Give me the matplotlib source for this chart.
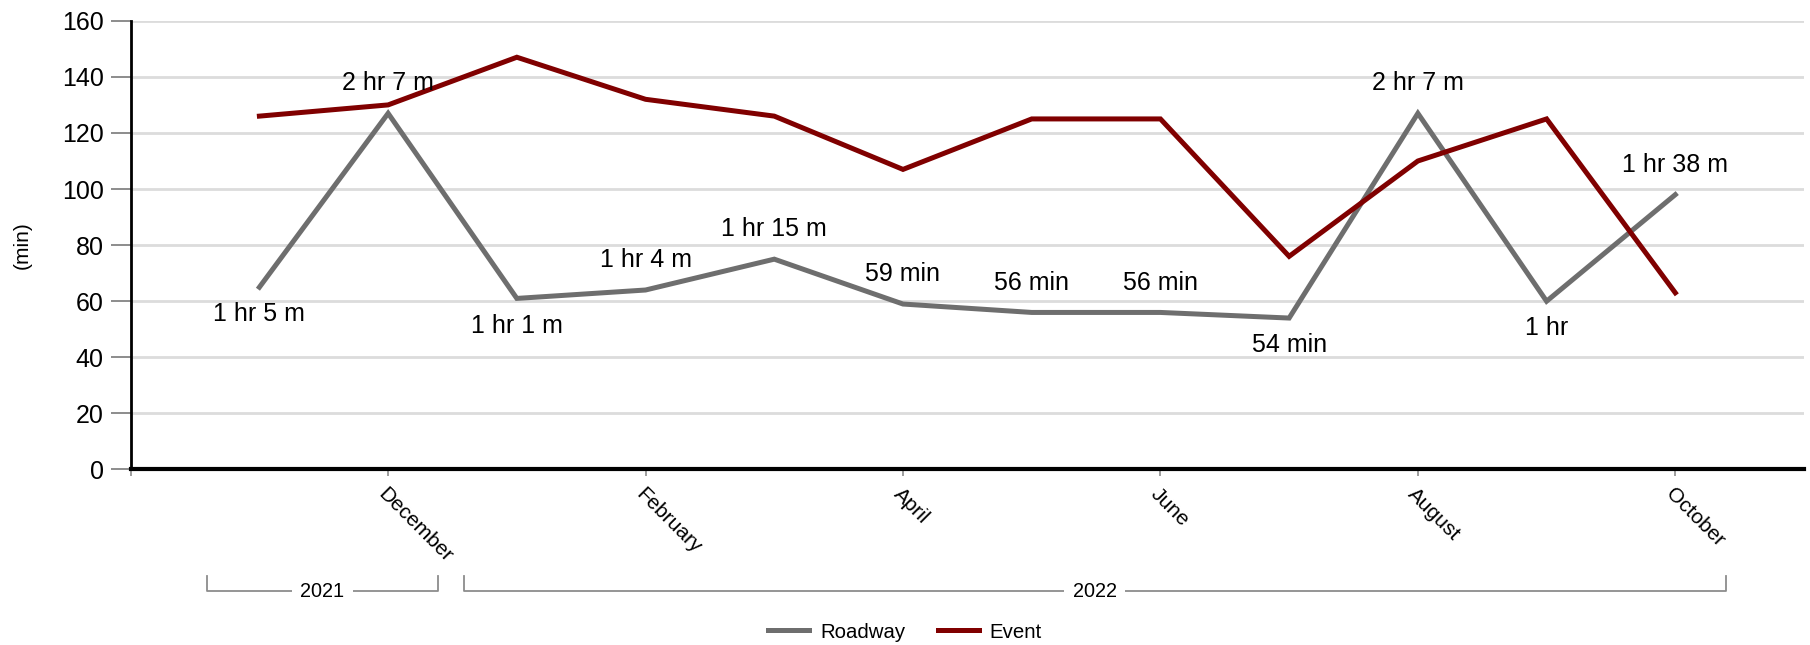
import matplotlib

matplotlib.use("Agg")
import matplotlib.pyplot as plt

plt.rcParams["font.family"] = ["Liberation Sans", "DejaVu Sans"]

# Monthly average durations (minutes), Nov 2021 .. Oct 2022
months = ["November", "December", "January", "February", "March", "April",
          "May", "June", "July", "August", "September", "October"]
roadway = [65, 127, 61, 64, 75, 59, 56, 56, 54, 127, 60, 98]
event = [126, 130, 147, 132, 126, 107, 125, 125, 76, 110, 125, 63]

tick_months = ["", "December", "February", "April", "June", "August", "October"]
years = ["2021", "2022"]
year_first = [1, 3]   # month index where each year group starts
year_last = [2, 12]   # month index where each year group ends


def fmt_minutes(v):
    h, m = divmod(int(v), 60)
    if h == 0:
        return f"{m} min"
    if m == 0:
        return f"{h} hr"
    return f"{h} hr {m} m"


GREY = "#6e6e6e"
RED = "#800000"

fig = plt.figure(figsize=(18.1, 6.45), dpi=100)
ax = fig.add_axes([0.0722, 0.2721, 0.9245, 0.6957])

x = list(range(1, len(months) + 1))
ax.plot(x, roadway, color=GREY, lw=3.6, label="Roadway", solid_joinstyle="miter", zorder=3)
ax.plot(x, event, color=RED, lw=3.6, label="Event", solid_joinstyle="miter", zorder=3)

# value labels on the roadway line: below local minima, above otherwise
for i, v in enumerate(roadway):
    left = roadway[i - 1] if i > 0 else float("inf")
    right = roadway[i + 1] if i < len(roadway) - 1 else float("inf")
    below = v < left and v < right
    ax.annotate(fmt_minutes(v), (x[i], v), xytext=(0, -19.5 if below else 21.5),
                textcoords="offset points", ha="center", va="center",
                fontsize=18, color="black", zorder=4)

ax.set_xlim(0, 13)
ax.set_ylim(0, 160)
ax.set_yticks(range(0, 161, 20))
ax.set_xticks(range(0, 13, 2))
ax.set_xticklabels(tick_months, rotation=-45, ha="left", va="top",
                   rotation_mode="anchor", fontsize=15)
ax.tick_params(axis="y", labelsize=18, length=14.5, width=1.4, color="#8c8c8c", pad=5)
ax.tick_params(axis="x", length=5, width=1.2, color="#8c8c8c", pad=6)

ax.grid(axis="y", color="#dcdcdc", lw=2)
ax.set_axisbelow(True)
for s in ["top", "right"]:
    ax.spines[s].set_visible(False)
ax.spines["left"].set_linewidth(2)
ax.spines["bottom"].set_linewidth(3)
ax.spines["left"].set_color("black")
ax.spines["bottom"].set_color("black")

ax.set_ylabel("(min)", fontsize=15)
ax.yaxis.set_label_coords(-0.059, 0.5)

# year group brackets below the month labels
trans = ax.get_xaxis_transform()
for name, a, b in zip(years, year_first, year_last):
    x0, x1 = a - 0.41, b + 0.39
    ax.plot([x0, x0, x1, x1], [-0.237, -0.271, -0.271, -0.237], transform=trans,
            color="#8c8c8c", lw=1.3, clip_on=False)
    ax.text((x0 + x1) / 2, -0.271, name, transform=trans, ha="center", va="center",
            fontsize=14.3, bbox=dict(fc="white", ec="none", pad=6))

fig.legend(loc="center", bbox_to_anchor=(0.5, 0.02), ncol=2, frameon=False,
           fontsize=14.7, handlelength=2.0, handletextpad=0.55, columnspacing=1.6)

fig.savefig("out.png", dpi=100)
